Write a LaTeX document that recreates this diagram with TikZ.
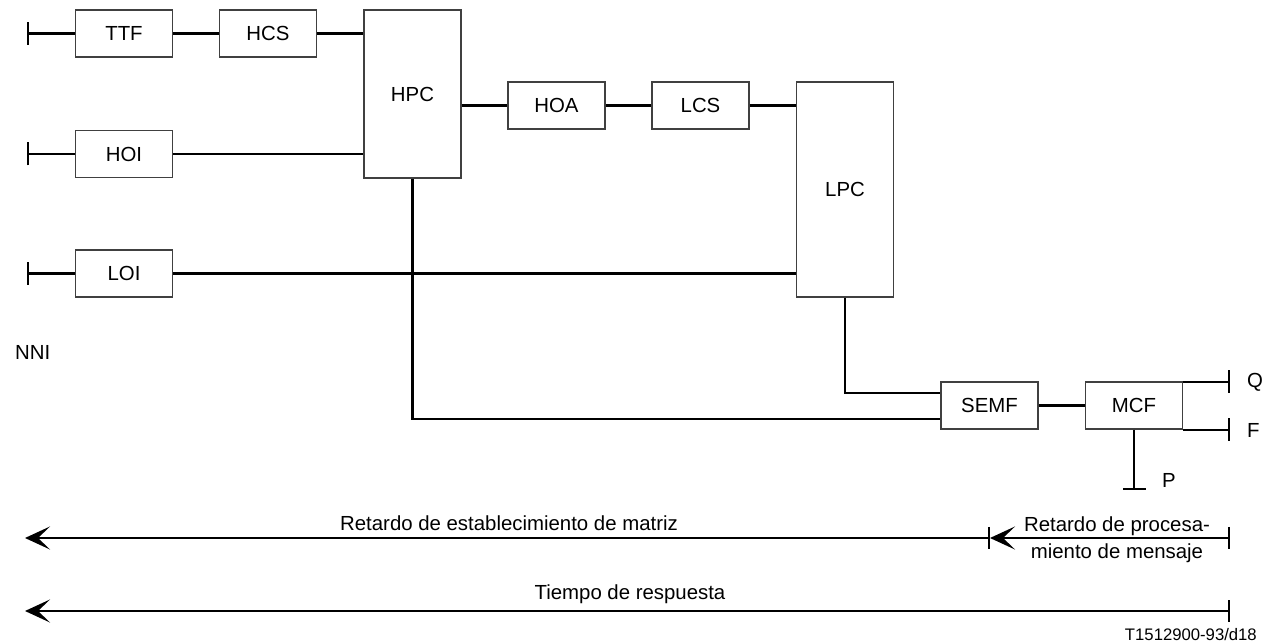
\documentclass[tikz,border=0pt]{standalone}
\usepackage{fontspec}
\setmainfont{Liberation Sans}
\usetikzlibrary{positioning, arrows.meta, calc}

\begin{document}
\begin{tikzpicture}[
        blk/.style={rectangle, draw=black!75, line width=0.8pt, minimum width=1.94cm, minimum height=0.94cm, inner sep=0pt, font=\fontsize{11.6}{15.4}\selectfont},
        tall/.style={blk, minimum height=#1},
        conn/.style={line width=1.2pt},
        term/.style={conn, {Bar[width=0.46cm]}-},
        termR/.style={conn, -{Bar[width=0.46cm]}},
        span/.style={conn, {Bar[width=0.44cm]}-{Stealth[length=0.5cm, width=0.46cm, inset=0.24cm]}},
        lbl/.style={font=\fontsize{11.6}{15.4}\selectfont}
    ]
    \useasboundingbox (0,0) rectangle (25.3,-12.88);

    % Function blocks
    \foreach \nm/\x/\y in {TTF/2.48/-0.67, HCS/5.36/-0.67, HOI/2.48/-3.08, LOI/2.48/-5.47,
                          HOA/11.13/-2.11, LCS/14.01/-2.11, SEMF/19.79/-8.11, MCF/22.68/-8.11} {
        \node[blk] (\nm) at (\x,\y) {\nm};
    }
    \node[tall=3.36cm] (HPC) at (8.25,-1.88) {HPC};
    \node[tall=4.3cm] (LPC) at (16.9,-3.79) {LPC};

    % NNI side
    \coordinate (nni) at (0.54,0);
    \foreach \nm in {TTF,HOI,LOI} {
        \draw[term] (\nm -| nni) -- (\nm);
    }
    \node[lbl, anchor=west] (NNI) at (0.18,-7.04) {NNI};

    % Links between blocks
    \draw[conn] (TTF) -- (HCS) -- (HCS -| HPC.west);
    \draw[conn] (HOI) -- (HOI -| HPC.west);
    \draw[conn] (HOA -| HPC.east) -- (HOA) -- (LCS) -- (LCS -| LPC.west);
    \draw[conn] (LOI) -- (LOI -| LPC.west);
    \coordinate (semfA) at ([yshift=0.25cm]SEMF.west);
    \coordinate (semfB) at ([yshift=-0.27cm]SEMF.west);
    \draw[conn] (LPC.south) |- (semfA);
    \draw[conn] (HPC.south) |- (semfB);
    \draw[conn] (SEMF) -- (MCF);

    % Q, F and P interfaces
    \coordinate (qEnd) at (24.6,-7.64);
    \coordinate (fEnd) at (24.6,-8.6);
    \coordinate (pEnd) at (22.68,-9.8);
    \draw[termR] (qEnd -| MCF.east) -- (qEnd);
    \draw[termR] (fEnd -| MCF.east) -- (fEnd);
    \draw[termR] (MCF.south) -- (pEnd);
    \node[lbl, anchor=west] (Q) at (24.82,-7.64) {Q};
    \node[lbl, anchor=west] (F) at (24.82,-8.6) {F};
    \node[lbl, anchor=west] (P) at (23.12,-9.6) {P};

    % Delay spans
    \coordinate (rA) at (24.6,-10.76);
    \coordinate (mA) at (19.8,-10.76);
    \coordinate (lA) at (0.5,-10.76);
    \coordinate (rB) at (24.6,-12.22);
    \coordinate (lB) at (0.5,-12.22);
    \draw[span] (rA) -- (mA);
    \draw[span] (mA) -- (lA);
    \draw[span] (rB) -- (lB);
    \node[lbl] (matriz) at (10.18,-10.47) {Retardo de establecimiento de matriz};
    \node[lbl, align=center] (proc) at (22.34,-10.8) {Retardo de procesa-\\miento de mensaje};
    \node[lbl] (resp) at (12.6,-11.88) {Tiempo de respuesta};
    \node[font=\fontsize{9.5}{11}\selectfont, anchor=east] (ref) at (25.26,-12.7) {T1512900-93/d18};
\end{tikzpicture}
\end{document}
